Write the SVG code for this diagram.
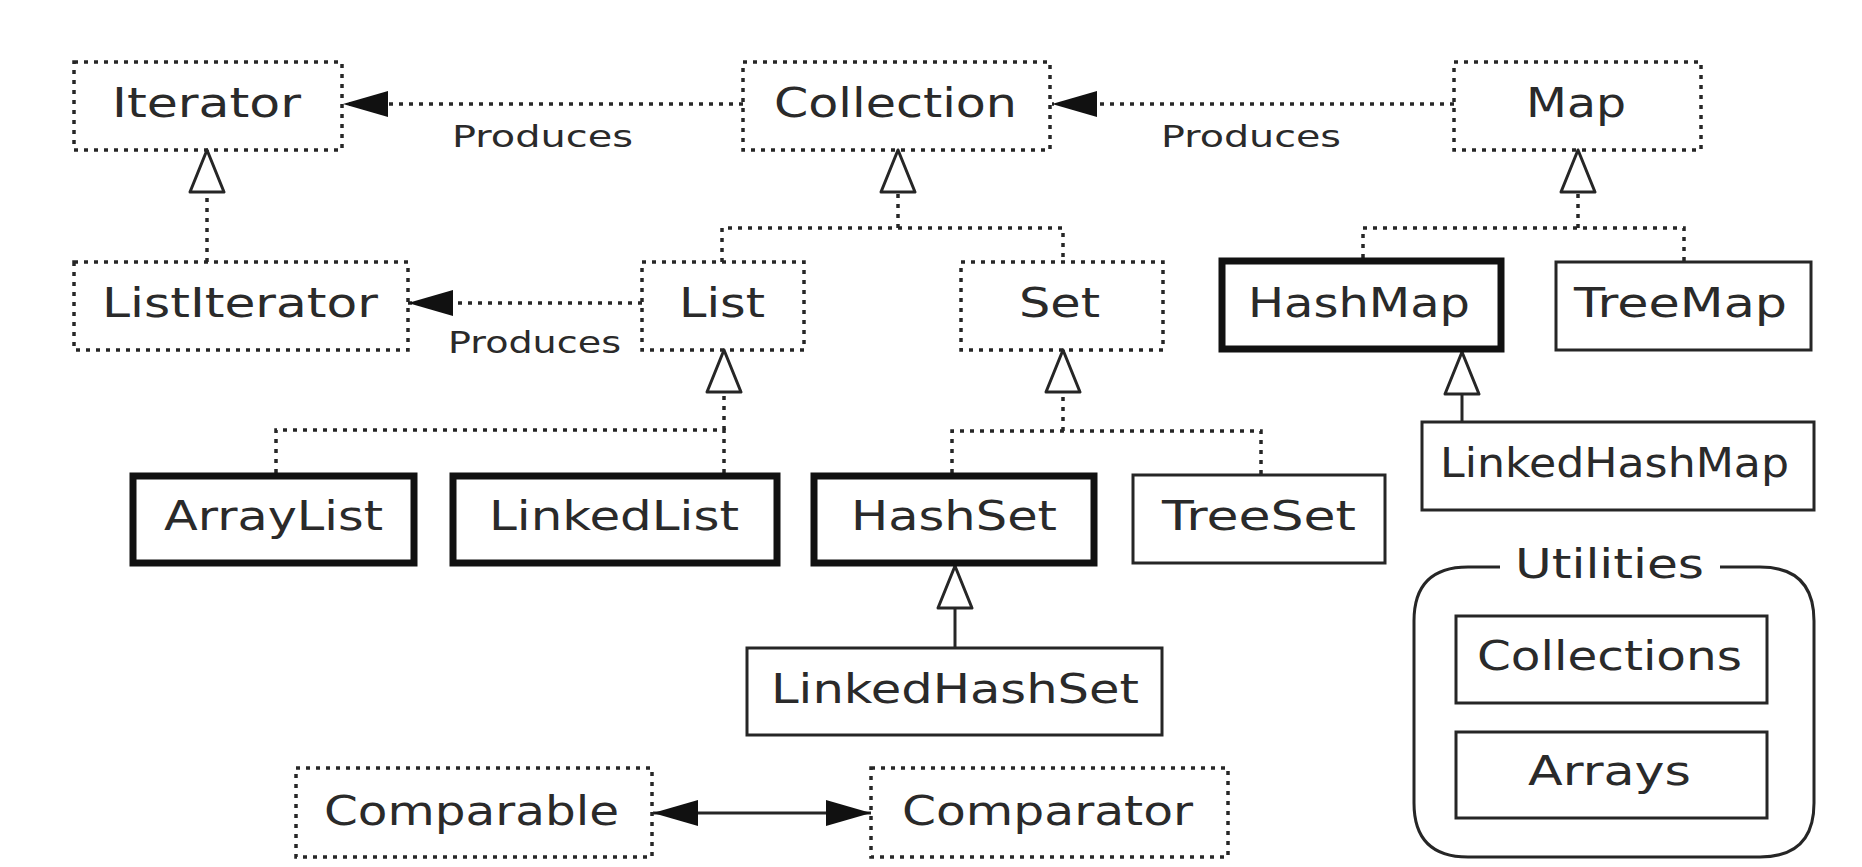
<svg xmlns="http://www.w3.org/2000/svg" width="1862" height="867" viewBox="0 0 1862 867">
<style>
  .dot { fill: none; stroke: #262626; stroke-width: 3.5; stroke-dasharray: 4 6; }
  .thin { fill: none; stroke: #262626; stroke-width: 3; }
  .thick { fill: none; stroke: #111; stroke-width: 7; }
  .lbl { font-family: "DejaVu Sans", "Liberation Sans", sans-serif; font-size: 40px; fill: #2a2a2a; }
  .sm { font-size: 30px; }
  .line { fill: none; stroke: #262626; stroke-width: 3; }
</style>
<defs>
  <marker id="hollow" markerUnits="userSpaceOnUse" markerWidth="46" markerHeight="38" viewBox="-2 -2 46 38" refX="42" refY="17" orient="auto" overflow="visible">
    <path d="M0,0 L42,17 L0,34 Z" fill="#fff" stroke="#262626" stroke-width="3" stroke-linejoin="round"/>
  </marker>
  <marker id="filled" markerUnits="userSpaceOnUse" markerWidth="46" markerHeight="28" viewBox="0 0 46 28" refX="45" refY="13" orient="auto-start-reverse" overflow="visible">
    <path d="M0,0 L45,13 L0,26 Z" fill="#111"/>
  </marker>
</defs>
<rect width="1862" height="867" fill="#fff"/>

<g id="connectors">
  <!-- Produces arrows -->
  <path class="dot" d="M743,104 H343" marker-end="url(#filled)"/>
  <path class="dot" d="M1454,104 H1052" marker-end="url(#filled)"/>
  <path class="dot" d="M642,303 H408" marker-end="url(#filled)"/>
  <!-- ListIterator -> Iterator -->
  <path class="dot" d="M207,262 V150" marker-end="url(#hollow)"/>
  <!-- List, Set -> Collection -->
  <path class="dot" d="M722,262 V228 H1063 V262"/>
  <path class="dot" d="M898,228 V150" marker-end="url(#hollow)"/>
  <!-- HashMap, TreeMap -> Map -->
  <path class="dot" d="M1363,258 V228 H1684 V262"/>
  <path class="dot" d="M1578,228 V150" marker-end="url(#hollow)"/>
  <!-- ArrayList, LinkedList -> List -->
  <path class="dot" d="M276,473 V430 H724 V473"/>
  <path class="dot" d="M724,430 V350" marker-end="url(#hollow)"/>
  <!-- HashSet, TreeSet -> Set -->
  <path class="dot" d="M952,473 V431 H1261 V474"/>
  <path class="dot" d="M1063,431 V350" marker-end="url(#hollow)"/>
  <!-- LinkedHashMap -> HashMap -->
  <path class="line" d="M1462,422 V352" marker-end="url(#hollow)"/>
  <!-- LinkedHashSet -> HashSet -->
  <path class="line" d="M955,648 V566" marker-end="url(#hollow)"/>
  <!-- Comparable <-> Comparator -->
  <path class="line" d="M653,813 H871" marker-start="url(#filled)" marker-end="url(#filled)"/>
</g>

<g id="Iterator">
  <rect class="dot" x="74" y="62" width="268" height="88"/>
  <text class="lbl" x="112" y="117" textLength="189" lengthAdjust="spacingAndGlyphs">Iterator</text>
</g>
<g id="Collection">
  <rect class="dot" x="743" y="62" width="307" height="88"/>
  <text class="lbl" x="774" y="117" textLength="243" lengthAdjust="spacingAndGlyphs">Collection</text>
</g>
<g id="Map">
  <rect class="dot" x="1454" y="62" width="247" height="88"/>
  <text class="lbl" x="1526" y="117" textLength="100" lengthAdjust="spacingAndGlyphs">Map</text>
</g>
<g id="label-produces-1">
  <text class="lbl sm" x="452" y="147" textLength="181" lengthAdjust="spacingAndGlyphs">Produces</text>
</g>
<g id="label-produces-2">
  <text class="lbl sm" x="1161" y="147" textLength="180" lengthAdjust="spacingAndGlyphs">Produces</text>
</g>
<g id="label-produces-3">
  <text class="lbl sm" x="448" y="353" textLength="173" lengthAdjust="spacingAndGlyphs">Produces</text>
</g>
<g id="ListIterator">
  <rect class="dot" x="74" y="262" width="334" height="88"/>
  <text class="lbl" x="102" y="317" textLength="276" lengthAdjust="spacingAndGlyphs">ListIterator</text>
</g>
<g id="List">
  <rect class="dot" x="642" y="262" width="162" height="88"/>
  <text class="lbl" x="679" y="317" textLength="86" lengthAdjust="spacingAndGlyphs">List</text>
</g>
<g id="Set">
  <rect class="dot" x="961" y="262" width="202" height="88"/>
  <text class="lbl" x="1019" y="317" textLength="81" lengthAdjust="spacingAndGlyphs">Set</text>
</g>
<g id="HashMap">
  <rect class="thick" x="1222" y="261" width="279" height="88"/>
  <text class="lbl" x="1248" y="317" textLength="222" lengthAdjust="spacingAndGlyphs">HashMap</text>
</g>
<g id="TreeMap">
  <rect class="thin" x="1556" y="262" width="255" height="88"/>
  <text class="lbl" x="1574" y="317" textLength="213" lengthAdjust="spacingAndGlyphs">TreeMap</text>
</g>
<g id="LinkedHashMap">
  <rect class="thin" x="1422" y="422" width="392" height="88"/>
  <text class="lbl" x="1440" y="477" textLength="349" lengthAdjust="spacingAndGlyphs">LinkedHashMap</text>
</g>
<g id="ArrayList">
  <rect class="thick" x="133" y="476" width="281" height="87"/>
  <text class="lbl" x="164" y="530" textLength="219" lengthAdjust="spacingAndGlyphs">ArrayList</text>
</g>
<g id="LinkedList">
  <rect class="thick" x="453" y="476" width="324" height="87"/>
  <text class="lbl" x="489" y="530" textLength="250" lengthAdjust="spacingAndGlyphs">LinkedList</text>
</g>
<g id="HashSet">
  <rect class="thick" x="814" y="476" width="280" height="87"/>
  <text class="lbl" x="851" y="530" textLength="206" lengthAdjust="spacingAndGlyphs">HashSet</text>
</g>
<g id="TreeSet">
  <rect class="thin" x="1133" y="475" width="252" height="88"/>
  <text class="lbl" x="1162" y="530" textLength="194" lengthAdjust="spacingAndGlyphs">TreeSet</text>
</g>
<g id="LinkedHashSet">
  <rect class="thin" x="747" y="648" width="415" height="87"/>
  <text class="lbl" x="771" y="703" textLength="368" lengthAdjust="spacingAndGlyphs">LinkedHashSet</text>
</g>
<g id="Comparable">
  <rect class="dot" x="296" y="768" width="356" height="89"/>
  <text class="lbl" x="324" y="825" textLength="295" lengthAdjust="spacingAndGlyphs">Comparable</text>
</g>
<g id="Comparator">
  <rect class="dot" x="871" y="768" width="357" height="89"/>
  <text class="lbl" x="902" y="825" textLength="291" lengthAdjust="spacingAndGlyphs">Comparator</text>
</g>
<g id="Utilities">
  <path class="thin" d="M1500,567 H1468 Q1414,567 1414,621 V803 Q1414,857 1468,857 H1760 Q1814,857 1814,803 V621 Q1814,567 1760,567 H1720"/>
  <text class="lbl" x="1515" y="578" font-size="36" textLength="189" lengthAdjust="spacingAndGlyphs">Utilities</text>
</g>
<g id="Collections">
  <rect class="thin" x="1456" y="616" width="311" height="87"/>
  <text class="lbl" x="1477" y="670" font-size="38" textLength="265" lengthAdjust="spacingAndGlyphs">Collections</text>
</g>
<g id="Arrays">
  <rect class="thin" x="1456" y="732" width="311" height="86"/>
  <text class="lbl" x="1528" y="785" font-size="38" textLength="163" lengthAdjust="spacingAndGlyphs">Arrays</text>
</g>
</svg>
